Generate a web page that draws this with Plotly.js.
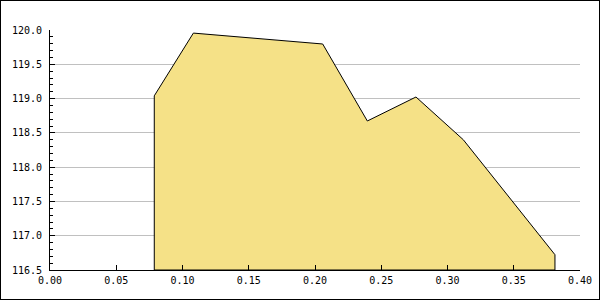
<!DOCTYPE html>
<html>
<head>
<meta charset="utf-8">
<script src="https://cdn.plot.ly/plotly-3.0.1.min.js"></script>
<style>
html,body{margin:0;padding:0;background:#fff;}
#chart{width:600px;height:300px;box-sizing:border-box;border:1px solid #000;}
</style>
</head>
<body>
<div id="chart"></div>
<script>
const xValues = [0.0787, 0.1082, 0.2058, 0.2395, 0.2762, 0.3119, 0.3811];
const yValues = [119.04, 119.955, 119.796, 118.673, 119.023, 118.40, 116.723];
const yBase = 116.5;
const xTickVals = [0, 0.05, 0.10, 0.15, 0.20, 0.25, 0.30, 0.35, 0.40];
const xTickText = ['0.00','0.05','0.10','0.15','0.20','0.25','0.30','0.35','0.40'];
const yTickVals = [116.5, 117.0, 117.5, 118.0, 118.5, 119.0, 119.5, 120.0];
const yTickText = ['116.5','117.0','117.5','118.0','118.5','119.0','119.5','120.0'];

const polyX = [xValues[0]].concat(xValues, [xValues[xValues.length-1], xValues[0]]);
const polyY = [yBase].concat(yValues, [yBase, yBase]);

const trace = {
  x: polyX, y: polyY, type: 'scatter', mode: 'lines',
  fill: 'toself', fillcolor: 'rgb(245,225,135)',
  line: {color: '#000', width: 1}, hoverinfo: 'skip'
};
const font = {family: 'DejaVu Sans Mono, monospace', size: 10, color: '#000'};
const layout = {
  width: 598, height: 298,
  margin: {l: 49, r: 19, t: 29, b: 29, pad: 0},
  paper_bgcolor: '#fff', plot_bgcolor: '#fff',
  showlegend: false, font: font,
  xaxis: {
    range: [0, 0.40], tickvals: xTickVals, ticktext: xTickText,
    ticks: 'inside', ticklen: 5, tickcolor: '#000', tickwidth: 1,
    showline: true, linecolor: '#000', linewidth: 1,
    showgrid: false, zeroline: false, tickfont: font, ticklabelstandoff: 1
  },
  yaxis: {
    range: [116.5, 120.0], tickvals: yTickVals, ticktext: yTickText,
    ticks: 'inside', ticklen: 5, tickcolor: '#000', tickwidth: 1,
    showline: true, linecolor: '#000', linewidth: 1,
    showgrid: true, gridcolor: '#c0c0c0', gridwidth: 1,
    zeroline: false, tickfont: font, ticklabelstandoff: 5,
    minor: {dtick: 0.1, ticks: 'inside', ticklen: 3, tickcolor: '#000', showgrid: false}
  }
};
Plotly.newPlot('chart', [trace], layout, {staticPlot: true, displayModeBar: false});
</script>
</body>
</html>
